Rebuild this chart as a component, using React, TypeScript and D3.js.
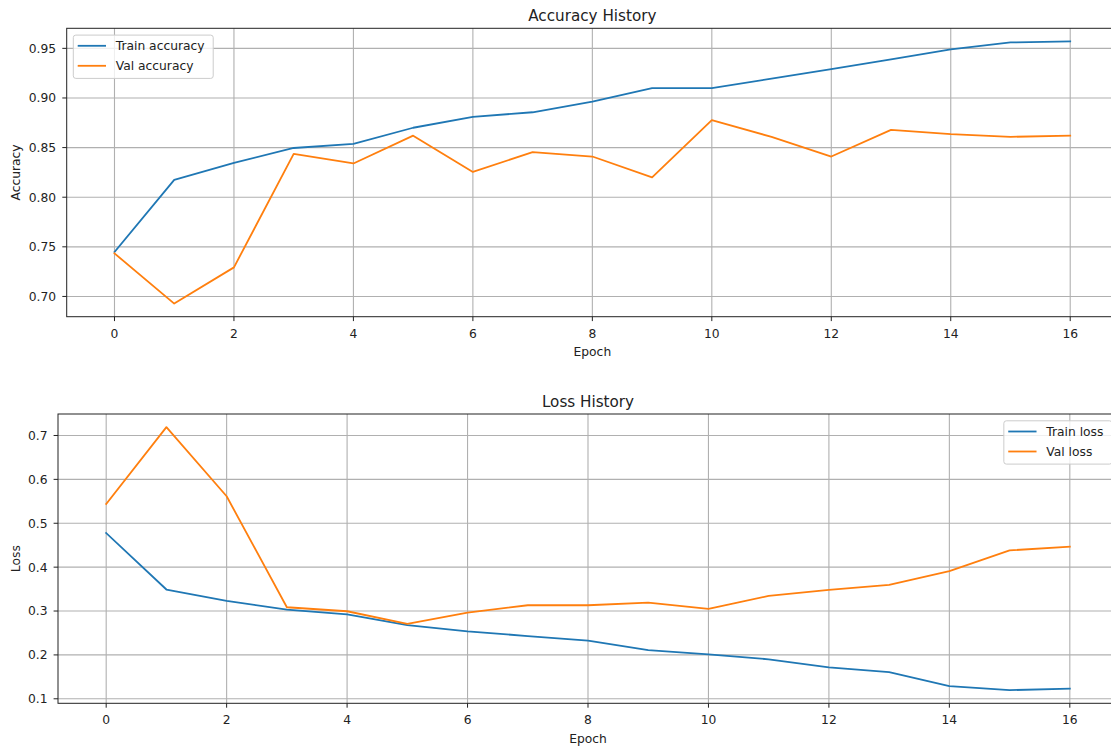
import React, { useEffect, useRef } from 'react';
import * as d3 from 'd3';

const epochs = d3.range(0, 17);

const trainAccuracy = [0.7448, 0.8175, 0.8346, 0.8496, 0.8537, 0.870, 0.881, 0.8856, 0.8963, 0.910, 0.910, 0.9194, 0.929, 0.939, 0.949, 0.956, 0.957];
const valAccuracy = [0.7434, 0.6928, 0.7293, 0.8437, 0.834, 0.862, 0.8255, 0.8454, 0.841, 0.820, 0.8776, 0.8608, 0.841, 0.8678, 0.8635, 0.8608, 0.8621];

const trainLoss = [0.4777, 0.349, 0.323, 0.3034, 0.2926, 0.268, 0.2538, 0.243, 0.2325, 0.211, 0.2013, 0.190, 0.1716, 0.1608, 0.1289, 0.1197, 0.123];
const valLoss = [0.544, 0.719, 0.5615, 0.3086, 0.2995, 0.2705, 0.2965, 0.3132, 0.3132, 0.3193, 0.305, 0.3345, 0.3482, 0.3596, 0.391, 0.4382, 0.4464];

const xTicks = [0, 2, 4, 6, 8, 10, 12, 14, 16];
const accTicks = [0.70, 0.75, 0.80, 0.85, 0.90, 0.95];
const lossTicks = [0.1, 0.2, 0.3, 0.4, 0.5, 0.6, 0.7];

const BLUE = '#1f77b4';
const ORANGE = '#ff7f0e';
const FONT = 'DejaVu Sans, sans-serif';
const FS = 12.3;

const W = 1111;
const H = 746;

const App = () => {
    const svgRef = useRef(null);

    useEffect(() => {
        const svg = d3.select(svgRef.current);
        svg.selectAll('*').remove();

        const drawPanel = ({ box, series, yTicks, yFmt, title, yLabel, legendPos }) => {
            const all = series.flatMap(s => s.values);
            const lo = d3.min(all), hi = d3.max(all);
            const pad = (hi - lo) * 0.05;

            const x = d3.scaleLinear().domain([-0.8, 16.8]).range([box.left, box.right]);
            const y = d3.scaleLinear().domain([lo - pad, hi + pad]).range([box.bottom, box.top]);

            const g = svg.append('g');

            // grid
            g.selectAll('line.vgrid')
                .data(xTicks)
                .enter()
                .append('line')
                .attr('x1', d => x(d)).attr('x2', d => x(d))
                .attr('y1', box.top).attr('y2', box.bottom)
                .attr('stroke', '#b0b0b0').attr('stroke-width', 1.1);

            g.selectAll('line.hgrid')
                .data(yTicks)
                .enter()
                .append('line')
                .attr('x1', box.left).attr('x2', box.right)
                .attr('y1', d => y(d)).attr('y2', d => y(d))
                .attr('stroke', '#b0b0b0').attr('stroke-width', 1.1);

            // lines
            const line = d3.line().x((d, i) => x(epochs[i])).y(d => y(d));
            series.forEach(s => {
                g.append('path')
                    .datum(s.values)
                    .attr('d', line)
                    .attr('fill', 'none')
                    .attr('stroke', s.color)
                    .attr('stroke-width', 1.8)
                    .attr('stroke-linejoin', 'round')
                    .attr('stroke-linecap', 'square');
            });

            // spines
            g.append('rect')
                .attr('x', box.left).attr('y', box.top)
                .attr('width', box.right - box.left).attr('height', box.bottom - box.top)
                .attr('fill', 'none').attr('stroke', '#222').attr('stroke-width', 1);

            // x ticks
            g.selectAll('line.xtick')
                .data(xTicks)
                .enter()
                .append('line')
                .attr('x1', d => x(d)).attr('x2', d => x(d))
                .attr('y1', box.bottom).attr('y2', box.bottom + 4.4)
                .attr('stroke', '#222');
            g.selectAll('text.xtick')
                .data(xTicks)
                .enter()
                .append('text')
                .attr('x', d => x(d))
                .attr('y', box.bottom + 21)
                .attr('text-anchor', 'middle')
                .attr('font-family', FONT).attr('font-size', FS).attr('fill', '#222')
                .text(d => d);

            // y ticks
            g.selectAll('line.ytick')
                .data(yTicks)
                .enter()
                .append('line')
                .attr('x1', box.left - 4.4).attr('x2', box.left)
                .attr('y1', d => y(d)).attr('y2', d => y(d))
                .attr('stroke', '#222');
            g.selectAll('text.ytick')
                .data(yTicks)
                .enter()
                .append('text')
                .attr('x', box.left - 10.5)
                .attr('y', d => y(d))
                .attr('dy', '0.36em')
                .attr('text-anchor', 'end')
                .attr('font-family', FONT).attr('font-size', FS).attr('fill', '#222')
                .text(d => d3.format(yFmt)(d));

            // labels
            g.append('text')
                .attr('x', (box.left + box.right) / 2)
                .attr('y', box.top - 7.5)
                .attr('text-anchor', 'middle')
                .attr('font-family', FONT).attr('font-size', 15.2).attr('fill', '#222')
                .text(title);

            g.append('text')
                .attr('x', (box.left + box.right) / 2)
                .attr('y', box.bottom + 39.5)
                .attr('text-anchor', 'middle')
                .attr('font-family', FONT).attr('font-size', FS).attr('fill', '#222')
                .text('Epoch');

            const cy = (box.top + box.bottom) / 2;
            g.append('text')
                .attr('transform', `translate(20,${cy}) rotate(-90)`)
                .attr('text-anchor', 'middle')
                .attr('font-family', FONT).attr('font-size', FS).attr('fill', '#222')
                .text(yLabel);

            // legend
            const lg = g.append('g');
            const frame = lg.append('rect')
                .attr('fill', 'white').attr('fill-opacity', 0.8)
                .attr('stroke', '#cccccc').attr('stroke-width', 1)
                .attr('rx', 2.5);
            const texts = series.map((s, i) => {
                lg.append('line')
                    .attr('x1', 4.4).attr('x2', 32.7)
                    .attr('y1', 10.7 + i * 20).attr('y2', 10.7 + i * 20)
                    .attr('stroke', s.color).attr('stroke-width', 1.8);
                return lg.append('text')
                    .attr('x', 42.4)
                    .attr('y', 10.7 + i * 20)
                    .attr('dy', '0.36em')
                    .attr('font-family', FONT).attr('font-size', FS).attr('fill', '#222')
                    .text(s.name);
            });
            const tw = d3.max(texts, t => t.node().getComputedTextLength());
            const bw = 42.4 + tw + 8.6;
            const bh = 43.3;
            frame.attr('width', bw).attr('height', bh);
            const lx = legendPos === 'left' ? box.left + 6.6 : box.right - 6 - bw;
            lg.attr('transform', `translate(${lx},${box.top + 6.8})`);
        };

        drawPanel({
            box: { left: 66.7, right: 1118, top: 28.3, bottom: 316.7 },
            series: [
                { name: 'Train accuracy', values: trainAccuracy, color: BLUE },
                { name: 'Val accuracy', values: valAccuracy, color: ORANGE },
            ],
            yTicks: accTicks,
            yFmt: '.2f',
            title: 'Accuracy History',
            yLabel: 'Accuracy',
            legendPos: 'left',
        });

        drawPanel({
            box: { left: 58, right: 1118, top: 414, bottom: 703.3 },
            series: [
                { name: 'Train loss', values: trainLoss, color: BLUE },
                { name: 'Val loss', values: valLoss, color: ORANGE },
            ],
            yTicks: lossTicks,
            yFmt: '.1f',
            title: 'Loss History',
            yLabel: 'Loss',
            legendPos: 'right',
        });
    }, []);

    return (
        <div style={{ position: 'absolute', left: 0, top: 0, width: W, height: H, background: 'white' }}>
            <svg ref={svgRef} width={W} height={H} style={{ display: 'block' }}></svg>
        </div>
    );
};

export default App;
